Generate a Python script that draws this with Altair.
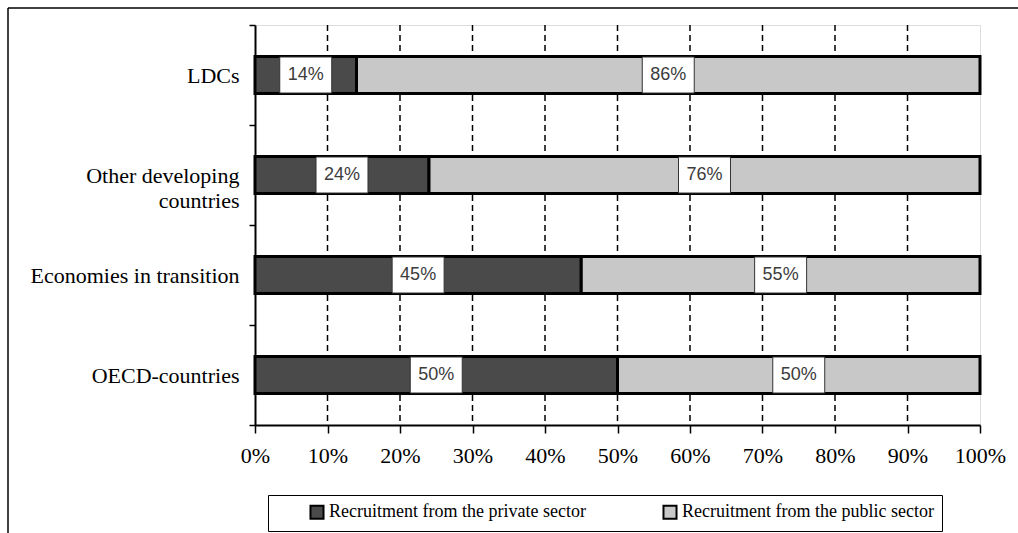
import altair as alt
import pandas as pd

# Recruitment of staff by origin, share of total (%)
categories = ["LDCs", "Other developing countries", "Economies in transition", "OECD-countries"]
private_share = [14, 24, 45, 50]
public_share = [86, 76, 55, 50]
series = ["Recruitment from the private sector", "Recruitment from the public sector"]
series_colors = ["#4a4a4a", "#c8c8c8"]
x_ticks = [0, 10, 20, 30, 40, 50, 60, 70, 80, 90, 100]
grid_ticks = [10, 20, 30, 40, 50, 60, 70, 80, 90]

rows = []
for cat, pv, pu in zip(categories, private_share, public_share):
    rows.append({"cat": cat, "series": series[0], "start": 0, "end": pv,
                 "mid": pv / 2, "label": f"{pv}%"})
    rows.append({"cat": cat, "series": series[1], "start": pv, "end": pv + pu,
                 "mid": pv + pu / 2, "label": f"{pu}%"})
df = pd.DataFrame(rows)
grid_df = pd.DataFrame({"g": grid_ticks})

SERIF = "Liberation Serif"
SANS = "Liberation Sans"

xscale = alt.Scale(domain=[0, 100], nice=False, zero=True)
yscale = alt.Scale(domain=categories, paddingInner=0, paddingOuter=0)

y_axis = alt.Axis(
    title=None, tickBand="extent", domainColor="black", domainWidth=2,
    tickColor="black", tickWidth=1.5, tickSize=6, labelFont=SERIF,
    labelFontSize=22, labelColor="black", labelPadding=10,
    labelLineHeight=25, labelLimit=400,
    labelExpr="datum.value == 'Other developing countries' ? ['Other developing', 'countries'] : datum.label",
)
x_axis = alt.Axis(
    title=None, values=x_ticks, labelExpr="datum.value + '%'", grid=False,
    domainColor="black", domainWidth=2, tickColor="black", tickWidth=1.5,
    tickSize=8, labelFont=SERIF, labelFontSize=22, labelColor="black",
    labelPadding=12, labelFlush=False,
)

X_START = alt.X("start:Q", scale=xscale, axis=x_axis)
Y_CAT = alt.Y("cat:N", scale=yscale, axis=y_axis, sort=categories)

grid = alt.Chart(grid_df).mark_rule(
    color="black", strokeWidth=1.5, strokeDash=[6, 4]
).encode(x=alt.X("g:Q", scale=xscale, axis=x_axis))

bars = alt.Chart(df).mark_bar(size=37, stroke="black", strokeWidth=3).encode(
    y=Y_CAT,
    x=X_START,
    x2="end:Q",
    color=alt.Color(
        "series:N",
        scale=alt.Scale(domain=series, range=series_colors),
        legend=alt.Legend(
            title=None, orient="none", legendX=13, legendY=470,
            direction="horizontal", symbolType="square", symbolSize=170,
            symbolStrokeColor="black", symbolStrokeWidth=2, symbolOpacity=1,
            symbolOffset=32,
            labelFont=SERIF, labelFontSize=18, labelColor="black",
            labelOffset=3, columnPadding=43, padding=8,
            strokeColor="black", fillColor="white", labelLimit=600,
        ),
    ),
)

# white label boxes, 52 x 36 px
box_shape = "M-1.444,-1L1.444,-1L1.444,1L-1.444,1Z"
boxes = alt.Chart(df).mark_point(
    shape=box_shape, size=36 * 36, filled=True, fill="white", opacity=1,
    stroke="#333333", strokeWidth=1,
).encode(
    y=Y_CAT,
    x=alt.X("mid:Q", scale=xscale, axis=x_axis),
)

labels = alt.Chart(df).mark_text(
    font=SANS, fontSize=18, color="#3c3c3c", baseline="middle", align="center"
).encode(
    y=Y_CAT,
    x=alt.X("mid:Q", scale=xscale, axis=x_axis),
    text="label:N",
)

# outer frame around the figure
frame_src = pd.DataFrame({"f": [0]})
frame_top = alt.Chart(frame_src).mark_rule(color="black", strokeWidth=1.5).encode(
    x=alt.value(-247), x2=alt.value(800), y=alt.value(-17)
)
frame_left = alt.Chart(frame_src).mark_rule(color="black", strokeWidth=1.5).encode(
    x=alt.value(-247), y=alt.value(-17), y2=alt.value(600)
)

chart = alt.layer(grid, bars, boxes, labels, frame_top, frame_left).properties(
    width=725, height=400,
    autosize=alt.AutoSizeParams(type="none"),
    padding={"left": 255, "top": 25, "right": 38, "bottom": 108},
).configure_view(stroke="#8c8c8c", strokeWidth=2).configure(background="white")

chart.save("out.html", embed_options={"renderer": "svg", "actions": False})
